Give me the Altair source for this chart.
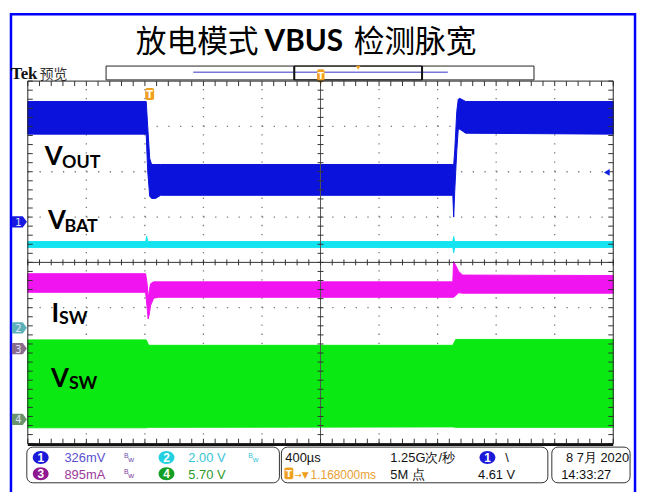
import altair as alt
import pandas as pd

# ---------------- data ----------------
# time  : ms from the left edge of the screen (10 div x 400 us = 4 ms)
# level : scope divisions (0 = centre line, +/-4 div)
# every trace is a noise band given by an upper and a lower envelope
vout_t  = [0.000, 0.809, 0.819, 0.833, 0.846, 0.873, 0.907, 2.904, 2.910, 2.917, 2.931, 2.941, 2.951, 2.992, 4.000]
vout_hi = [3.55, 3.55, 3.01, 2.29, 2.16, 2.16, 2.16, 2.16, 2.16, 2.46, 3.33, 3.60, 3.62, 3.55, 3.55]
vout_lo = [2.83, 2.83, 2.02, 1.46, 1.41, 1.41, 1.48, 1.48, 1.00, 1.57, 2.46, 2.94, 2.94, 2.85, 2.83]

vbat_t  = [0.000, 0.806, 0.812, 0.819, 2.904, 2.910, 2.917, 4.000]
vbat_hi = [0.46, 0.46, 0.58, 0.46, 0.46, 0.57, 0.46, 0.46]
vbat_lo = [0.33, 0.33, 0.33, 0.33, 0.33, 0.21, 0.33, 0.33]

isw_t  = [0.000, 0.805, 0.816, 0.822, 0.829, 0.839, 0.860, 0.893, 2.904, 2.909, 2.924, 2.944, 2.971, 4.000]
isw_hi = [-0.25, -0.25, -0.49, -0.81, -0.64, -0.47, -0.43, -0.43, -0.43, 0.02, -0.07, -0.20, -0.28, -0.29]
isw_lo = [-0.66, -0.66, -1.03, -1.25, -1.16, -0.95, -0.79, -0.77, -0.77, -0.77, -0.73, -0.67, -0.68, -0.68]

vsw_t  = [0.000, 0.809, 0.826, 2.904, 2.924, 4.000]
vsw_hi = [-1.71, -1.71, -1.83, -1.83, -1.70, -1.70]
vsw_lo = [-3.65, -3.65, -3.64, -3.63, -3.64, -3.64]

trace_colors = ["#0a12dc", "#14e4f0", "#f014f0", "#0aea12"]

# readouts shown on the screen
title_parts = ["放电模式", "VBUS", "检测脉宽"]
ch_scale = ["326mV", "2.00 V", "895mA", "5.70 V"]
timebase = "400µs"
sample_rate = "1.25G次/秒"
record_len = "5M 点"
trig_pos = "1.168000ms"
trig_level = "4.61 V"
date_str = "8 7月 2020"
time_str = "14:33:27"

# ---------------- layout ----------------
X0, Y0, W, H = 28.0, 79.5, 591, 366   # page px of the graticule
TW, TH = 636, 484
XS = alt.Scale(domain=[0, 4], nice=False, zero=False)
YS = alt.Scale(domain=[-4, 4], nice=False, zero=False)


def dx(px):
    return (px - X0) / W * 4.0


def dy(py):
    return 4.0 - (py - Y0) / H * 8.0


def ex(f="x"):
    return alt.X(f, type="quantitative", scale=XS, axis=None)


def ey(f="y"):
    return alt.Y(f, type="quantitative", scale=YS, axis=None)


def texts(items, **style):
    style.setdefault("baseline", "alphabetic")
    df = pd.DataFrame([{"x": dx(a), "y": dy(b), "t": s} for a, b, s in items])
    return alt.Chart(df).mark_text(**style).encode(x=ex(), y=ey(), text="t:N")


def rects(items, **style):
    df = pd.DataFrame([{"x": dx(a), "x2": dx(b), "y": dy(c), "y2": dy(d)} for a, b, c, d in items])
    return alt.Chart(df).mark_rect(**style).encode(x=ex(), x2="x2:Q", y=ey(), y2="y2:Q")


def rules(items, **style):
    df = pd.DataFrame(items, columns=["x", "x2", "y", "y2"])
    return alt.Chart(df).mark_rule(**style).encode(x=ex(), x2="x2:Q", y=ey(), y2="y2:Q")


def prules(items, **style):
    return rules([(dx(a), dx(b), dy(c), dy(d)) for a, b, c, d in items], **style)


def points(items, **style):
    df = pd.DataFrame([{"x": dx(a), "y": dy(b)} for a, b in items])
    return alt.Chart(df).mark_point(**style).encode(x=ex(), y=ey())


def band(t, hi, lo, color):
    df = pd.DataFrame({"t": t, "hi": hi, "lo": lo})
    return alt.Chart(df).mark_area(color=color, stroke=color, strokeWidth=1, opacity=1).encode(
        x=ex("t"), y=ey("hi"), y2="lo:Q")


layers = []

# slide border
layers.append(rects([(11, 641, 12, 520)], fill="white", fillOpacity=0, stroke="#0000ff", strokeWidth=2.5))

# title
CJK = "Noto Sans CJK SC"
layers.append(texts([(137, 50, title_parts[0])], font=CJK, fontSize=31, align="left", color="black"))
layers.append(texts([(267, 49, title_parts[1])], font="Lato", fontWeight="bold", fontSize=30, align="left", color="black"))
layers.append(texts([(357, 50, title_parts[2])], font=CJK, fontSize=31, align="left", color="black"))

# Tek preview header
layers.append(texts([(11, 77.5, "Tek")], font="Liberation Serif", fontWeight="bold", fontSize=17, align="left", color="#111"))
layers.append(texts([(40, 77.5, "预览")], font=CJK, fontSize=14, align="left", color="#333"))

# record bar
layers.append(rects([(107, 539, 64.3, 78.3)], fill="white", stroke="#222", strokeWidth=1))
layers.append(prules([(195, 452, 70.5, 70.5)], color="#7878d8", strokeWidth=1.5))
layers.append(rects([(297, 426, 64.3, 78.3)], fill="white", fillOpacity=0, stroke="#111", strokeWidth=1))
layers.append(prules([(297, 297, 64.3, 78.3), (426, 426, 64.3, 78.3)], color="#111", strokeWidth=2))
layers.append(rects([(320, 327.5, 67.5, 79)], fill="#f0a020", cornerRadius=2))
layers.append(points([(323.7, 80.5)], shape="triangle-down", size=30, filled=True, color="#f0a020", opacity=1))
layers.append(points([(361.5, 66)], shape="triangle-down", size=22, filled=True, color="#f0a020", opacity=1))

# graticule: dotted grid
gx = [k * 0.4 for k in range(1, 10) if k != 5]
gy = [k for k in range(-3, 4) if k != 0]
layers.append(rules([(x, x, -4, 4) for x in gx], color="#777", strokeWidth=1.3, strokeDash=[1.3, 7.85]))
layers.append(rules([(0, 4, y, y) for y in gy], color="#777", strokeWidth=1.3, strokeDash=[1.3, 10.52]))

# traces
layers.append(band(vsw_t, vsw_hi, vsw_lo, trace_colors[3]))
layers.append(band(isw_t, isw_hi, isw_lo, trace_colors[2]))
layers.append(band(vbat_t, vbat_hi, vbat_lo, trace_colors[1]))
layers.append(band(vout_t, vout_hi, vout_lo, trace_colors[0]))

# centre cross and minor ticks
minor_x = [i * 0.08 for i in range(51)]
minor_y = [-4 + i * 0.2 for i in range(41)]
tk = 5 * 8.0 / H
tkx = 5 * 4.0 / W
ck = 3 * 8.0 / H
ckx = 3 * 4.0 / W
layers.append(rules([(0, 4, 0, 0)], color="#333", strokeWidth=1))
layers.append(rules([(2, 2, -4, 4)], color="#555", strokeWidth=1))
tick_items = []
tick_items += [(x, x, 4, 4 - tk) for x in minor_x]
tick_items += [(x, x, -4, -4 + tk) for x in minor_x]
tick_items += [(0, tkx, y, y) for y in minor_y]
tick_items += [(4, 4 - tkx, y, y) for y in minor_y]
tick_items += [(x, x, -ck, ck) for x in minor_x]
tick_items += [(2 - ckx, 2 + ckx, y, y) for y in minor_y]
layers.append(rules(tick_items, color="#333", strokeWidth=1))
layers.append(rects([(X0, X0 + W, Y0, Y0 + H)], fill="white", fillOpacity=0, stroke="#222", strokeWidth=1))
layers.append(prules([(X0, X0 + W, Y0 + H + 1, Y0 + H + 1)], color="#111", strokeWidth=2.5))

# trace labels
LB = "Lato"
layers.append(texts([(45, 164, "V"), (48.5, 229, "V"), (51.5, 388, "V")], font=LB, fontWeight="bold", fontSize=26, align="left", color="black"))
layers.append(texts([(52, 322.5, "I")], font=LB, fontWeight="bold", fontSize=26, align="left", color="black"))
layers.append(texts([(62.5, 167, "OUT"), (65, 231.5, "BAT"), (59.5, 325, "SW"), (69.5, 390.5, "SW")], font=LB, fontWeight="bold", fontSize=18, align="left", color="black"))

# trigger markers
layers.append(rects([(146.5, 155.5, 86.5, 98.5)], fill="#f0a020", cornerRadius=2))
layers.append(texts([(151, 96.5, "T")], font="DejaVu Sans", fontWeight="bold", fontSize=10, color="white"))
layers.append(texts([(323.7, 77.5, "T")], font="DejaVu Sans", fontWeight="bold", fontSize=9, color="white"))
layers.append(points([(612.5, 171.7)], shape="triangle-left", size=45, filled=True, color="#1020e0", opacity=1))

# channel markers on the left
PENT = "M-1,-0.75 L0.45,-0.75 L1,0 L0.45,0.75 L-1,0.75 Z"
marker_pos = [(19.5, 221.5), (19.5, 328.5), (19.5, 349.5), (19.5, 421)]
marker_fill = ["#1818e0", "#5cb0b8", "#8c6c8c", "#6c946c"]
for (mx, my), mc, lab in zip(marker_pos, marker_fill, ["1", "2", "3", "4"]):
    layers.append(points([(mx, my)], shape=PENT, size=230, filled=True, color=mc, opacity=1))
    layers.append(texts([(mx - 1, my + 4, lab)], font="DejaVu Sans", fontSize=10, color="#dde4ff"))

# info bar
layers.append(rects([(27, 282, 449, 485), (284, 553, 449, 485), (557, 636, 449, 485)],
                    fill="white", stroke="#333", strokeWidth=1, cornerRadius=6))
ELL = "M-1,0 A1,0.82 0 1,0 1,0 A1,0.82 0 1,0 -1,0 Z"
circ = [(41, 459.5, "#1a1ad8", "1"), (41, 476, "#901890", "3"), (168, 459.5, "#22d0e0", "2"),
        (168, 476, "#12a024", "4"), (492, 459.5, "#1a1ad8", "1")]
for cx, cy, cc, lab in circ:
    layers.append(points([(cx, cy)], shape=ELL, size=256, filled=True, color=cc, opacity=1))
    layers.append(texts([(cx, cy + 4.5, lab)], font="Liberation Sans", fontWeight="bold", fontSize=12, color="white"))

NAR = "Liberation Sans"
FS = 13
layers.append(texts([(65, 464.5, ch_scale[0])], font=NAR, fontSize=FS, align="left", color="#5a4fcf"))
layers.append(texts([(65, 481, ch_scale[2])], font=NAR, fontSize=FS, align="left", color="#9a3a9a"))
layers.append(texts([(190, 464.5, ch_scale[1])], font=NAR, fontSize=FS, align="left", color="#38c4d4"))
layers.append(texts([(190, 481, ch_scale[3])], font=NAR, fontSize=FS, align="left", color="#2a9a2a"))
for bx, by, bc in [(125, 464, "#6a4fb0"), (125, 480.5, "#7a3a9a"), (250.5, 464, "#38c4d4")]:
    layers.append(texts([(bx, by - 4, "B")], font=NAR, fontSize=7, align="left", color=bc))
    layers.append(texts([(bx + 4.5, by, "w")], font=NAR, fontSize=8, align="left", color=bc))

layers.append(texts([(288, 464.5, timebase), (394, 464.5, sample_rate), (394, 481, record_len)],
                    font=NAR, fontSize=FS, align="left", color="#111"))
layers.append(texts([(510, 464.5, "\\")], font=NAR, fontSize=FS, align="left", color="#111"))
layers.append(texts([(520, 481, trig_level)], font=NAR, fontSize=FS, align="right", color="#111"))
layers.append(rects([(287, 296, 469.5, 481.5)], fill="#f0a020", cornerRadius=2))
layers.append(texts([(291.5, 479.5, "T")], font="DejaVu Sans", fontWeight="bold", fontSize=9, color="white"))
layers.append(texts([(297, 480.5, "→▼")], font="DejaVu Sans", fontSize=9, align="left", color="#f0a020"))
layers.append(texts([(313.5, 481, trig_pos)], font=NAR, fontSize=12, align="left", color="#e8a030"))
layers.append(texts([(635, 464.5, date_str)], font=NAR, fontSize=FS, align="right", color="#111"))
layers.append(texts([(617, 481, time_str)], font=NAR, fontSize=FS, align="right", color="#111"))

chart = alt.layer(*layers).properties(
    width=W, height=H,
    autosize=alt.AutoSizeParams(type="none"),
    padding={"left": X0 - 8, "top": Y0 - 8, "right": TW - (X0 - 8) - W, "bottom": TH - (Y0 - 8) - H},
    background="white",
).configure_view(stroke=None)

chart.save("out.html", embed_options={"renderer": "svg", "actions": False})
